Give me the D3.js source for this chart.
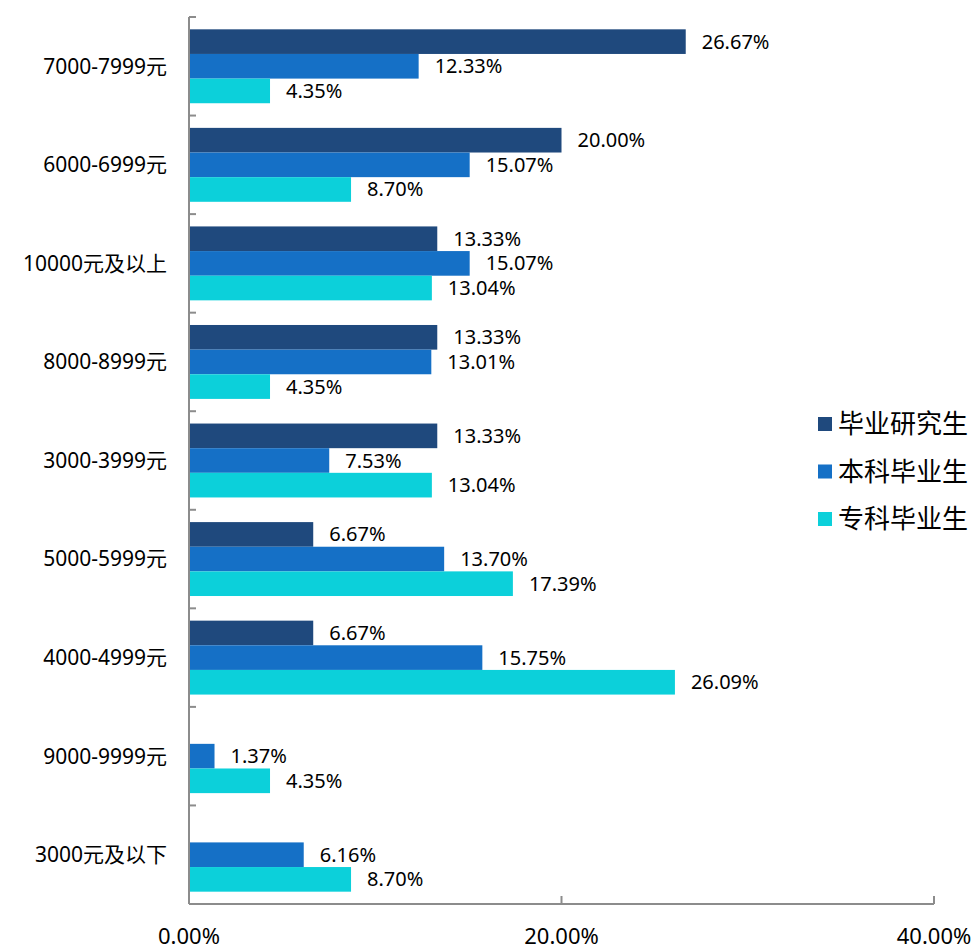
<!DOCTYPE html>
<html><head><meta charset="utf-8">
<script src="https://cdn.jsdelivr.net/npm/d3@7"></script>
<style>body{margin:0;background:#fff}svg{display:block}text{font-family:"Noto Sans","Noto Sans CJK SC",sans-serif;fill:#000}</style>
</head><body><svg id="c" width="978" height="949"></svg>
<script>
const categories = ["7000-7999元","6000-6999元","10000元及以上","8000-8999元","3000-3999元","5000-5999元","4000-4999元","9000-9999元","3000元及以下"];
const seriesNames = ["毕业研究生","本科毕业生","专科毕业生"];
const graduate = [26.67,20.00,13.33,13.33,13.33,6.67,6.67,null,null];
const undergrad = [12.33,15.07,15.07,13.01,7.53,13.70,15.75,1.37,6.16];
const college = [4.35,8.70,13.04,4.35,13.04,17.39,26.09,4.35,8.70];
const xTicks = [0,20,40];
const colors = ["#1F497D","#1570C6","#0CD0DA"];

const svg = d3.select("#c");
const x = d3.scaleLinear().domain([0,40]).range([189,934]);
const y = d3.scaleBand().domain(categories).range([17,904]).paddingInner(0.25).paddingOuter(0.125);
const yOuter = d3.scaleBand().domain(categories).range([17,904]);
const sub = d3.scaleBand().domain(seriesNames).range([0,y.bandwidth()]);
const series = [graduate, undergrad, college];

// bars
series.forEach((vals,si)=>{
  const g = svg.append("g");
  categories.forEach((c,i)=>{
    const v = vals[i];
    if(v==null) return;
    const yy = y(c)+sub(seriesNames[si]);
    g.append("rect").attr("x",x(0)).attr("y",yy).attr("width",x(v)-x(0)).attr("height",sub.bandwidth()).attr("fill",colors[si]);
    g.append("text").attr("x",x(v)+16).attr("y",yy+sub.bandwidth()/2).attr("dy","0.35em")
      .attr("font-size",20).text(v.toFixed(2)+"%");
  });
});

// y axis
const axisColor = "#8c8c8c";
svg.append("line").attr("x1",x(0)).attr("x2",x(0)).attr("y1",17).attr("y2",904).attr("stroke",axisColor).attr("stroke-width",2);
categories.forEach(c=>{
  svg.append("line").attr("x1",x(0)).attr("x2",x(0)+7).attr("y1",yOuter(c)).attr("y2",yOuter(c)).attr("stroke",axisColor).attr("stroke-width",2);
  svg.append("text").attr("x",167).attr("y",yOuter(c)+yOuter.bandwidth()/2).attr("dy","0.35em").attr("text-anchor","end").attr("font-size",21).text(c);
});
// x axis
svg.append("line").attr("x1",x(0)).attr("x2",x(40)).attr("y1",904).attr("y2",904).attr("stroke",axisColor).attr("stroke-width",2);
xTicks.forEach(t=>{
  svg.append("line").attr("x1",x(t)).attr("x2",x(t)).attr("y1",904).attr("y2",896).attr("stroke",axisColor).attr("stroke-width",2);
  svg.append("text").attr("x",x(t)).attr("y",936).attr("dy","0.35em").attr("text-anchor","middle").attr("font-size",22).text(t.toFixed(2)+"%");
});

// legend
const legY = d3.scalePoint().domain(seriesNames).range([424,519]);
seriesNames.forEach((s,i)=>{
  svg.append("rect").attr("x",818).attr("y",legY(s)-7).attr("width",14).attr("height",14).attr("fill",colors[i]);
  svg.append("text").attr("x",838).attr("y",legY(s)).attr("dy","0.35em").attr("font-size",26).attr("fill","#222").text(s);
});
</script></body></html>
